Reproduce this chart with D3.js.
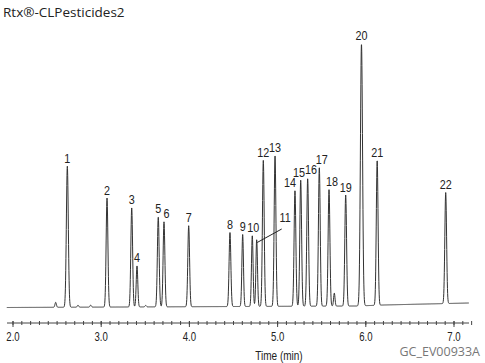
<!DOCTYPE html>
<html>
<head>
<meta charset="utf-8">
<script src="https://cdn.jsdelivr.net/npm/d3@7"></script>
<style>
  body { margin: 0; background: #fff; }
  svg { display: block; }
</style>
</head>
<body>
<div id="chart"></div>
<script>
// peak table
const peakIds    = ["1","2","3","4","5","6","7","8","9","10","11","12","13","14","15","16","17","18","19","20","21","22"];
const peakTimes  = [2.616, 3.066, 3.346, 3.406, 3.647, 3.712, 3.992, 4.460, 4.604, 4.713, 4.763, 4.838, 4.971, 5.197, 5.262, 5.341, 5.473, 5.583, 5.772, 5.951, 6.129, 6.906];
const peakHeights= [141, 109, 99, 41, 90, 85, 81, 74, 72, 71, 67, 146, 151, 116, 126, 128, 139, 117, 111, 262, 145, 111];
const peakWidths = [0.011, 0.010, 0.010, 0.009, 0.010, 0.010, 0.010, 0.010, 0.009, 0.009, 0.009, 0.010, 0.010, 0.010, 0.010, 0.010, 0.010, 0.010, 0.010, 0.012, 0.010, 0.010];

// small unlabelled bumps
const minorTimes   = [2.484, 2.737, 2.881, 3.505, 5.643];
const minorHeights = [5, 2, 2, 1.5, 13];

// baseline drift (time, level)
const driftTimes  = [1.93, 5.90, 6.20, 7.17];
const driftLevels = [0, 1.5, 2.5, 4.5];

const tickValues = [2, 3, 4, 5, 6, 7];
const title = "Rtx®-CLPesticides2";
const xTitle = "Time (min)";
const code = "GC_EV00933A";

const width = 485, height = 363;

const svg = d3.select("#chart").append("svg")
    .attr("width", width)
    .attr("height", height);

const x = d3.scaleLinear().domain([2, 7]).range([13, 454]);
const y = d3.scaleLinear().domain([0, 270]).range([307.5, 37.5]);
const drift = d3.scaleLinear().domain(driftTimes).range(driftLevels);

const peaks = peakIds.map((id, i) => ({id: id, t: peakTimes[i], h: peakHeights[i], w: peakWidths[i]}));
const bumps = minorTimes.map((t, i) => ({t: t, h: minorHeights[i], w: 0.008}));
const all = peaks.concat(bumps);

// trace
const t0 = 1.93, t1 = 7.17, step = 0.002;
const trace = d3.range(t0, t1, step).map(t => {
    let v = drift(t);
    all.forEach(p => {
        const z = (t - p.t) / p.w;
        if (Math.abs(z) < 8) v += p.h * Math.exp(-0.5 * z * z);
    });
    return [t, v];
});

const line = d3.line()
    .x(d => x(d[0]))
    .y(d => y(d[1]));

svg.append("path")
    .datum(trace)
    .attr("fill", "none")
    .attr("stroke", "#333")
    .attr("stroke-width", 1)
    .attr("d", line);

// condensed text: squeeze horizontally around its anchor
const squeeze = 0.8;
function narrowText(sel, fx, fy) {
    return sel.attr("transform", (d, i) => `translate(${fx(d, i)},${fy(d, i)}) scale(${squeeze},1)`);
}

// peak labels
const labelNudge = {
    "6": [2.5, 0], "14": [-5, 0], "15": [-1.7, 0], "16": [3.3, -1],
    "17": [2.4, 0], "18": [3, 0], "10": [1, 0]
};

const labelFont = "'Liberation Sans', Arial, sans-serif";

svg.append("g")
    .selectAll("text")
    .data(peaks.filter(p => p.id !== "11"))
    .join("text")
    .call(narrowText,
        d => x(d.t) + (labelNudge[d.id] ? labelNudge[d.id][0] : 0),
        d => y(d.h + drift(d.t)) - 3.5 + (labelNudge[d.id] ? labelNudge[d.id][1] : 0))
    .attr("text-anchor", "middle")
    .style("font-family", labelFont)
    .style("font-size", "13.5px")
    .style("fill", "#222")
    .text(d => d.id);

// peak 11 gets a leader line
const p11 = peaks.find(p => p.id === "11");
svg.append("line")
    .attr("x1", x(p11.t) + 0.5)
    .attr("y1", y(p11.h) + 2)
    .attr("x2", x(p11.t) + 25)
    .attr("y2", y(p11.h) - 11.5)
    .attr("stroke", "#222")
    .attr("stroke-width", 1);
svg.append("text")
    .datum(p11)
    .call(narrowText, d => x(d.t) + 28.5, d => y(d.h) - 19)
    .attr("text-anchor", "middle")
    .style("font-family", labelFont)
    .style("font-size", "13.5px")
    .style("fill", "#222")
    .text(d => d.id);

// time axis
const axisY = 323;
const axis = svg.append("g").attr("transform", `translate(0,${axisY})`);
axis.append("line")
    .attr("x1", 7).attr("x2", 469)
    .attr("stroke", "#444");

axis.selectAll("line.minor")
    .data(d3.range(1.95, 7.16, 0.1).map(v => Math.round(v * 10) / 10))
    .join("line")
    .attr("class", "minor")
    .attr("x1", d => x(d)).attr("x2", d => x(d))
    .attr("y1", -2).attr("y2", 2)
    .attr("stroke", "#444");

axis.selectAll("line.major")
    .data(tickValues)
    .join("line")
    .attr("class", "major")
    .attr("x1", d => x(d)).attr("x2", d => x(d))
    .attr("y1", -2).attr("y2", 4)
    .attr("stroke", "#444");

axis.selectAll("text")
    .data(tickValues)
    .join("text")
    .call(narrowText, d => x(d), () => 18)
    .attr("text-anchor", "middle")
    .style("font-family", labelFont)
    .style("font-size", "12px")
    .style("fill", "#222")
    .text(d => d3.format(".1f")(d));

svg.append("text")
    .datum(xTitle)
    .call(narrowText, () => 279, () => 360)
    .attr("text-anchor", "middle")
    .style("font-family", labelFont)
    .style("font-size", "12.5px")
    .style("fill", "#222")
    .text(d => d);

svg.append("text")
    .attr("x", 480)
    .attr("y", 356)
    .attr("text-anchor", "end")
    .style("font-family", "'Open Sans', sans-serif")
    .style("font-size", "12.5px")
    .style("fill", "#777")
    .text(code);

svg.append("text")
    .attr("x", 3)
    .attr("y", 17)
    .style("font-family", "'Open Sans', sans-serif")
    .style("font-size", "13.5px")
    .style("fill", "#222")
    .text(title);
</script>
</body>
</html>
